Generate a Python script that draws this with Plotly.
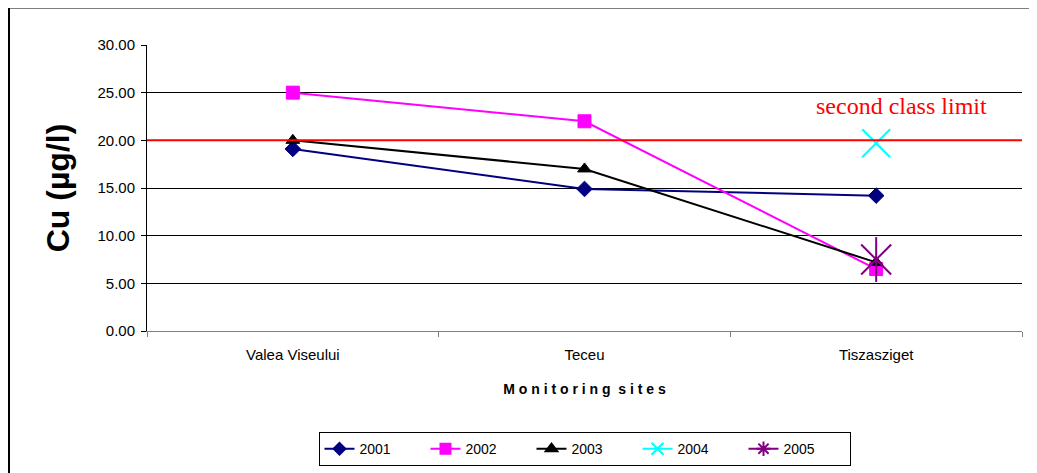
import plotly.graph_objects as go

sites = ["Valea Viseului", "Teceu", "Tiszasziget"]
cu_2001 = [19.1, 14.9, 14.2]
cu_2002 = [25.0, 22.0, 6.5]
cu_2003 = [20.0, 17.0, 7.2]
cu_2004 = [None, None, 19.7]
cu_2005 = [None, None, 7.5]
limit_value = 20.0
y_ticks = [0, 5, 10, 15, 20, 25, 30]

series = [
    ("2001", cu_2001, "#000080", "diamond", 12, 9, 1),
    ("2002", cu_2002, "#FF00FF", "square", 13, 10, 1),
    ("2003", cu_2003, "#000000", "triangle-up", 12, 10, 1),
    ("2004", cu_2004, "#00FFFF", "x-thin-open", 28, 12, 2),
    ("2005", cu_2005, "#800080", "x-thin-open", 30, 12, 2),
]

fig = go.Figure()
for name, vals, color, sym, size, lsize, lw in series:
    fig.add_trace(go.Scatter(
        x=sites, y=vals, name=name, mode="lines+markers",
        line=dict(color=color, width=2),
        marker=dict(symbol=sym, size=size, color=color,
                    line=dict(color=color, width=lw)),
        legendgroup=name, showlegend=False,
    ))
    if name == "2005":
        # vertical arm of the six-armed star marker
        fig.add_trace(go.Scatter(
            x=sites, y=vals, name=name, mode="markers",
            marker=dict(symbol="line-ns-open", size=32, color=color,
                        line=dict(color=color, width=2)),
            legendgroup=name, showlegend=False,
        ))
    # legend entry with smaller marker, as in the reference
    fig.add_trace(go.Scatter(
        x=[None], y=[None], name=name, mode="lines+markers",
        line=dict(color=color, width=2),
        marker=dict(symbol=("asterisk-open" if name == "2005" else sym),
                    size=lsize, color=color,
                    line=dict(color=color, width=2)),
        legendgroup=name, showlegend=True,
    ))

fig.add_shape(type="line", xref="paper", yref="y", x0=0, x1=1,
              y0=limit_value, y1=limit_value,
              line=dict(color="#FF0000", width=2), layer="above")

fig.add_annotation(text="second class limit", xref="x", yref="y",
                   x=2.086, y=23.6, showarrow=False,
                   font=dict(family="Liberation Serif, Times New Roman, serif",
                             size=24, color="#FF0000"))

# outer chart border (absolute page pixels converted to plot-area paper units)
fig.add_shape(type="rect", xref="paper", yref="paper",
              x0=(9 - 147) / 875, x1=(1045 - 147) / 875,
              y0=(331 - 480) / 286, y1=(331 - 7.5) / 286,
              line=dict(color="#000000", width=2), layer="below")

fig.update_layout(
    width=1029, height=465,
    margin=dict(l=139, r=15, t=37, b=142, autoexpand=False),
    paper_bgcolor="white", plot_bgcolor="white",
    font=dict(family="Liberation Sans, Arial, sans-serif", size=14, color="#000000"),
    showlegend=True,
    legend=dict(orientation="h", x=0.5, xanchor="center", y=-0.413, yanchor="middle",
                bordercolor="#000000", borderwidth=1, bgcolor="white",
                font=dict(size=14), traceorder="normal",
                entrywidth=61, entrywidthmode="pixels"),
    xaxis=dict(
        type="category", range=[-0.5, 2.5], showgrid=False, automargin=False,
        showline=True, linecolor="#808080", linewidth=1,
        ticks="outside", tickson="boundaries", ticklen=5, tickcolor="#808080",
        ticklabelstandoff=10,
        tickfont=dict(family="Liberation Sans Narrow, Arial Narrow, Liberation Sans, Arial",
                      size=15),
        title=dict(text="M o n i t o r i n g  s i t e s",
                   font=dict(family="Liberation Sans, Arial", size=14, color="#000000",
                             weight="bold"),
                   standoff=22),
        zeroline=False,
    ),
    yaxis=dict(
        range=[0, 30], tickvals=y_ticks, ticktext=[f"{v:.2f}" for v in y_ticks],
        showgrid=True, gridcolor="#000000", gridwidth=1, automargin=False,
        showline=True, linecolor="#000000", linewidth=1,
        ticks="outside", ticklen=5, tickcolor="#000000",
        ticklabelstandoff=3,
        zeroline=False,
        tickfont=dict(size=15),
        title=dict(text="Cu (µg/l)",
                   font=dict(family="Liberation Sans, Arial", size=32, color="#000000",
                             weight="bold"),
                   standoff=18),
    ),
)

fig.write_html("out.html")
